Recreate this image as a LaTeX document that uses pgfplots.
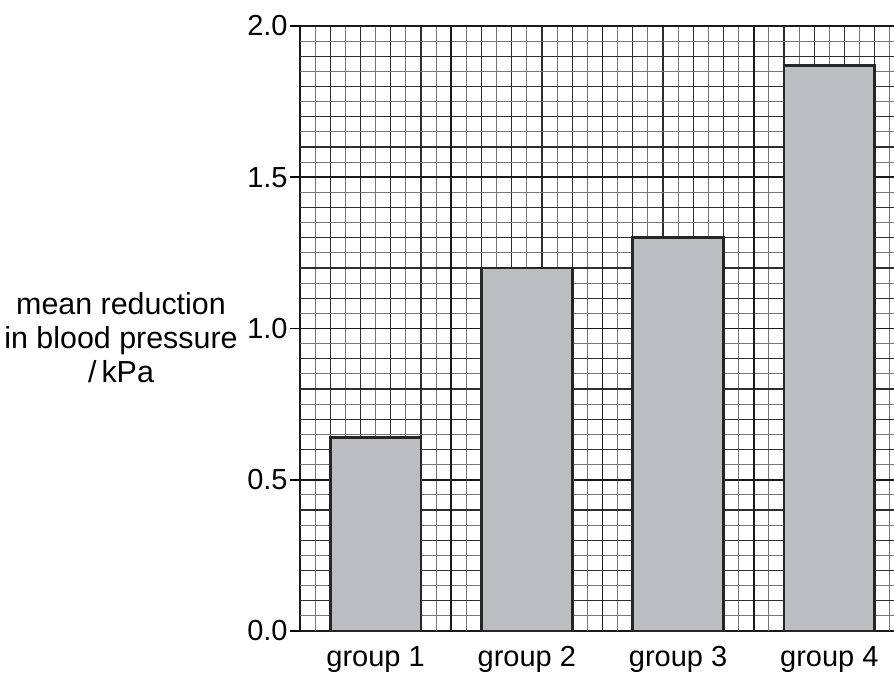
\documentclass[border=0pt]{standalone}
\usepackage{pgfplots}
\pgfplotsset{compat=1.18}
\usepackage{fontspec}
\setmainfont{Liberation Sans}
\definecolor{barfill}{HTML}{BCBDC1}
\definecolor{gridgrey}{HTML}{767676}
\definecolor{griddark}{HTML}{2E2E2E}
\begin{document}
\fontsize{14.5}{17}\selectfont
\begin{tikzpicture}[x=1pt,y=1pt]
\useasboundingbox (0,0) rectangle (447,336.5);
\begin{axis}[
  at={(150pt,21pt)}, anchor=south west,
  width=298.7pt, height=302.5pt, scale only axis,
  xmin=0, xmax=3.95, ymin=0, ymax=2,
  axis x line*=bottom, axis y line*=left,
  axis line style={line width=1.1pt, black!90},
  xtick={0.5,1.5,2.5,3.5},
  xticklabels={group 1,group 2,group 3,group 4},
  x tick style={draw=none},
  xticklabel style={yshift=2.5pt},
  ytick={0,0.5,1,1.5,2},
  yticklabels={0.0,0.5,1.0,1.5,2.0},
  y tick style={line width=0.9pt, black},
  tick align=outside,
  major tick length=5pt,
  yticklabel style={inner sep=1pt},
  ticklabel style={font=\fontsize{14.5}{17}\selectfont},
  /pgf/number format/assume math mode=true,
  clip=false,
]
% graph paper grid
\pgfplotsinvokeforeach{1,3,...,39}{
  \draw[gridgrey, line width=0.55pt] (axis cs:{#1*0.1},0) -- (axis cs:{#1*0.1},2);
}
\pgfplotsinvokeforeach{2,4,...,38}{
  \draw[griddark, line width=0.55pt] (axis cs:{#1*0.1},0) -- (axis cs:{#1*0.1},2);
}
\pgfplotsinvokeforeach{1,3,...,39}{
  \draw[gridgrey, line width=0.55pt] (axis cs:0,{#1*0.05}) -- (axis cs:3.95,{#1*0.05});
}
\pgfplotsinvokeforeach{2,4,...,38}{
  \draw[griddark, line width=0.55pt] (axis cs:0,{#1*0.05}) -- (axis cs:3.95,{#1*0.05});
}
\pgfplotsinvokeforeach{1,2,3}{
  \draw[black!90, line width=0.9pt] (axis cs:#1,0) -- (axis cs:#1,2);
}
\pgfplotsinvokeforeach{0.5,1,1.5}{
  \draw[black!90, line width=0.9pt] (axis cs:0,#1) -- (axis cs:3.95,#1);
}
\draw[black!90, line width=0.9pt] (axis cs:0,2) -- (axis cs:3.95,2);
\addplot[ybar, bar width=0.6, fill=barfill, draw=black!85, line width=1.3pt]
  coordinates {(0.5,0.64) (1.5,1.2) (2.5,1.3) (3.5,1.87)};
\end{axis}
\node[align=center, font=\fontsize{15.2}{17}\selectfont] at (60.5,167.5)
  {mean reduction\\in blood pressure\\/\,kPa};
\end{tikzpicture}
\end{document}
